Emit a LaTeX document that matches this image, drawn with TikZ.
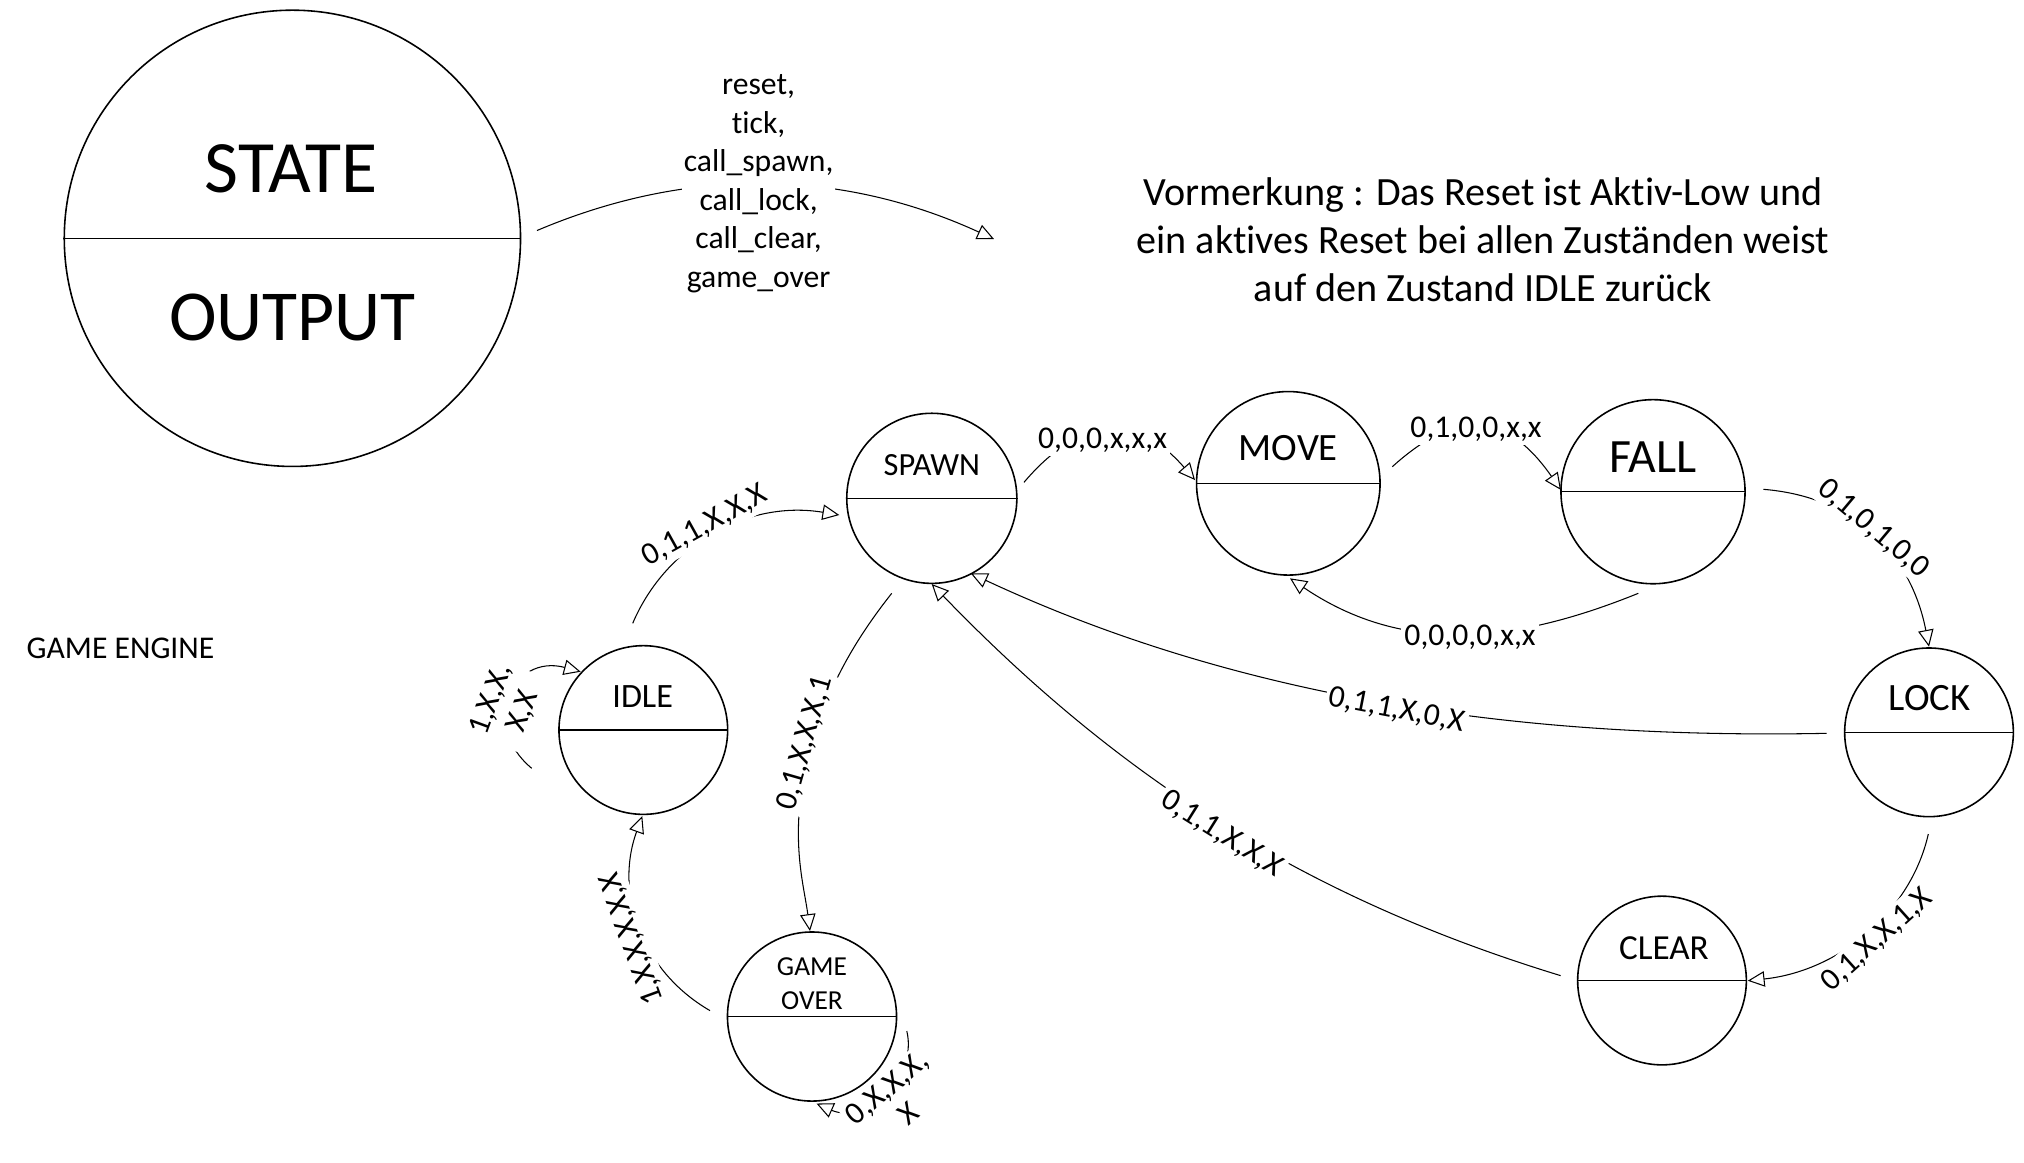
\documentclass[tikz,border=0pt]{standalone}
\usepackage{fontspec}
\setmainfont[Ligatures=NoCommon]{Carlito}
\usetikzlibrary{arrows.meta,calc}
\begin{document}
\begin{tikzpicture}[x=0.01cm,y=-0.01cm]
\tikzset{
  st/.style={circle, draw, line width=0.45pt, inner sep=0pt, minimum size=#1},
  div/.style={line width=0.3pt},
  conn/.style={line width=0.3pt, -{Triangle[open,length=4.8pt,width=4.4pt]}},
  lab/.style={fill=white, inner sep=1pt, font=\fontsize{9}{10.8}\selectfont},
  lablp/.style={fill=white, inner sep=1pt, align=center, font=\fontsize{9}{9.6}\selectfont}
}
\fill[white] (0,0) rectangle (2024,1162);
\useasboundingbox (0,0) rectangle (2024,1162);

% big legend circle
\node[st=4.56cm] (big) at (292.4,238.3) {};
\node[inner sep=0pt, font=\fontsize{21}{25}\selectfont] (bigs) at (291,169) {STATE};
\node[inner sep=0pt, font=\fontsize{20.4}{24.5}\selectfont] (bigo) at (292.5,317.5) {OUTPUT};

% states
\node[st=1.70cm]  (spawn) at (931.8,498.3) {};
\node[st=1.834cm] (move)  at (1288.3,483.3) {};
\node[st=1.84cm]  (fall)  at (1653,491.7) {};
\node[st=1.686cm] (lock)  at (1929,732.3) {};
\node[st=1.686cm] (clear) at (1662,980.5) {};
\node[st=1.686cm] (idle)  at (643.3,730) {};
\node[st=1.69cm]  (gover) at (812,1016.5) {};
\foreach \n in {big,spawn,move,fall,lock,clear,idle,gover}
  \draw[div] (\n.west) -- (\n.east);

\node[inner sep=0pt, font=\fontsize{9.2}{11}\selectfont]  (spawnt) at ($(spawn)+(0,-33.3)$) {SPAWN};
\node[inner sep=0pt, font=\fontsize{11}{13}\selectfont]   (movet)  at ($(move)+(0,-35.3)$) {MOVE};
\node[inner sep=0pt, font=\fontsize{13.6}{16.3}\selectfont] (fallt)  at ($(fall)+(0,-34.2)$) {FALL};
\node[inner sep=0pt, font=\fontsize{11}{13}\selectfont]   (lockt)  at ($(lock)+(0.5,-34)$) {LOCK};
\node[inner sep=0pt, font=\fontsize{10}{12}\selectfont]   (cleart) at ($(clear)+(1.9,-32.5)$) {CLEAR};
\node[inner sep=0pt, font=\fontsize{9.7}{11.6}\selectfont] (idlet) at ($(idle)+(-0.6,-33)$) {IDLE};
\node[inner sep=0pt, align=center, font=\fontsize{7.8}{9.9}\selectfont] (govert) at ($(gover)+(0,-32.8)$) {GAME\\OVER};

% free texts
\node[inner sep=0pt, font=\fontsize{9}{10.8}\selectfont] (engine) at (120.5,648.2) {GAME ENGINE};
\node[inner sep=0pt, align=center, font=\fontsize{11.4}{13.65}\selectfont] (note) at (1483,239.5)
  {Vormerkung : Das Reset ist Aktiv-Low und\\ein aktives Reset bei allen Zuständen weist\\auf den Zustand IDLE zurück};

% connectors
\coordinate (in0) at (994,239);
\draw[conn] ($(big)+(244.6,-7.8)$) .. controls (689,166) and (841.3,169) .. (in0);
\draw[conn] ($(idle)+(-10.6,-106.7)$) .. controls (666.7,543.3) and (749.3,499.9) .. ($(spawn)+(-92.5,16.7)$);
\draw[conn] ($(spawn)+(92.2,-16)$) .. controls (1081,414.9) and (1138,414) .. ($(move)+(-93.3,-3.3)$);
\draw[conn] ($(move)+(104,-16.6)$) .. controls (1455,410) and (1504.7,409.3) .. ($(fall)+(-92,-1.7)$);
\draw[conn] ($(fall)+(110.3,-2.4)$) .. controls (1859.4,497) and (1912,558.9) .. ($(lock)+(0,-85.6)$);
\draw[conn] ($(fall)+(-14.7,101.6)$) .. controls (1517.8,642) and (1406,656.8) .. ($(move)+(1.7,95)$);
\draw[conn] ($(lock)+(-102.3,1)$) .. controls (1526.7,739.3) and (1242.5,700.2) .. ($(spawn)+(38.9,75)$);
\draw[conn] ($(clear)+(-101.4,-4.9)$) .. controls (1311.9,899.7) and (1123.2,782.4) .. ($(spawn)+(-0.1,85.7)$);
\draw[conn] ($(lock)+(-0.7,101.7)$) .. controls (1910.6,912.4) and (1838.4,971.1) .. ($(clear)+(85.7,0.2)$);
\draw[conn] ($(spawn)+(-40.1,95)$) .. controls (854.5,640.4) and (828.3,686.6) .. (811.7,744.3)
  .. controls (786.9,830.8) and (803.5,881.5) .. ($(gover)+(-2,-85.5)$);
\draw[conn] ($(gover)+(-102,-5.9)$) .. controls (641.3,970.9) and (614.2,893.1) .. ($(idle)+(-1,86)$);
\draw[conn] ($(idle)+(-111.6,38.3)$) .. controls (478.1,723.3) and (513.1,653.6) .. ($(idle)+(-62.6,-58.3)$);
\draw[conn] ($(gover)+(94.8,14.5)$) .. controls (918.4,1079.6) and (862.2,1123.9) .. ($(gover)+(4.5,87)$);

% labels
\node[fill=white, inner xsep=0.5pt, inner ysep=1pt, align=center, font=\fontsize{9}{10.95}\selectfont] (l0) at (758.6,183.5)
  {reset,\\tick,\\call\_spawn,\\call\_lock,\\call\_clear,\\game\_over};
\node[lab, rotate=29]  (l1) at (704.8,525.8) {0,1,1,X,X,X};
\node[lab]             (l2) at (1102.5,440) {0,0,0,x,x,x};
\node[lab]             (l3) at (1476,429) {0,1,0,0,x,x};
\node[lab, rotate=-40] (l4) at (1873.3,528.3) {0,1,0,1,0,0};
\node[lab]             (l5) at (1470,637) {0,0,0,0,x,x};
\node[lab, rotate=-11] (l6) at (1396.7,710) {0,1,1,X,0,X};
\node[lab, rotate=-32] (l7) at (1221.8,833.9) {0,1,1,X,X,X};
\node[lab, rotate=42]  (l8) at (1876.7,940) {0,1,X,X,1,X};
\node[lab, rotate=74]  (l9) at (805,743.3) {0,1,X,X,X,1};
\node[lab, rotate=110] (l10) at (632.5,938.5) {1,X,X,X,X,X};
\node[lablp, rotate=70] (l11) at (507.2,705.7) {1,X,X,\\X,X};
\node[lablp, rotate=40] (l12) at (897.4,1100) {0,X,X,X,\\X};
\end{tikzpicture}
\end{document}
